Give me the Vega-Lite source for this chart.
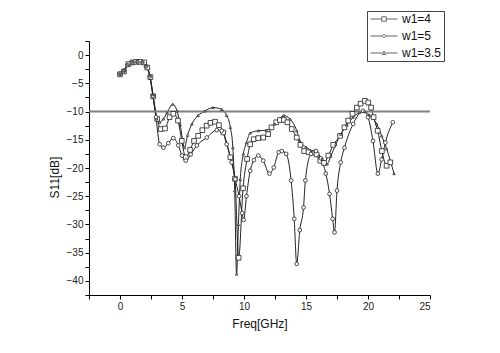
{
  "$schema": "https://vega.github.io/schema/vega-lite/v6.json",
  "width": 341,
  "height": 254,
  "autosize": "none",
  "padding": {"left": 89, "top": 41, "right": 70, "bottom": 58},
  "background": "white",
  "config": {
    "view": {"stroke": null},
    "axis": {
      "grid": false,
      "domainColor": "#000",
      "tickColor": "#000",
      "tickSize": 4,
      "labelColor": "#222",
      "labelFont": "Liberation Sans",
      "labelFontSize": 10,
      "titleFont": "Liberation Sans",
      "titleFontSize": 12,
      "titleFontWeight": "normal",
      "titleColor": "#111"
    }
  },
  "datasets": {
    "curves": [
      {"series": "w1=4", "f": 0.0, "db": -3.4},
      {"series": "w1=4", "f": 0.32, "db": -2.9},
      {"series": "w1=4", "f": 0.67, "db": -1.6},
      {"series": "w1=4", "f": 1.0, "db": -1.3},
      {"series": "w1=4", "f": 1.3, "db": -1.2},
      {"series": "w1=4", "f": 1.6, "db": -1.2},
      {"series": "w1=4", "f": 1.95, "db": -1.3},
      {"series": "w1=4", "f": 2.2, "db": -2.2},
      {"series": "w1=4", "f": 2.45, "db": -3.9},
      {"series": "w1=4", "f": 2.68, "db": -7.3},
      {"series": "w1=4", "f": 3.0, "db": -11.3},
      {"series": "w1=4", "f": 3.3, "db": -13.1},
      {"series": "w1=4", "f": 3.63, "db": -13.0},
      {"series": "w1=4", "f": 4.0, "db": -11.0},
      {"series": "w1=4", "f": 4.3, "db": -10.4},
      {"series": "w1=4", "f": 4.68, "db": -11.6},
      {"series": "w1=4", "f": 4.98, "db": -15.2},
      {"series": "w1=4", "f": 5.3, "db": -18.1},
      {"series": "w1=4", "f": 5.65, "db": -16.8},
      {"series": "w1=4", "f": 5.97, "db": -15.2},
      {"series": "w1=4", "f": 6.3, "db": -14.3},
      {"series": "w1=4", "f": 6.64, "db": -13.3},
      {"series": "w1=4", "f": 6.99, "db": -12.5},
      {"series": "w1=4", "f": 7.3, "db": -12.0},
      {"series": "w1=4", "f": 7.66, "db": -11.8},
      {"series": "w1=4", "f": 7.98, "db": -12.4},
      {"series": "w1=4", "f": 8.33, "db": -13.7},
      {"series": "w1=4", "f": 8.9, "db": -18.1},
      {"series": "w1=4", "f": 9.27, "db": -21.9},
      {"series": "w1=4", "f": 9.57, "db": -35.9},
      {"series": "w1=4", "f": 9.92, "db": -23.6},
      {"series": "w1=4", "f": 10.25, "db": -18.4},
      {"series": "w1=4", "f": 10.5, "db": -15.8},
      {"series": "w1=4", "f": 10.78, "db": -14.9},
      {"series": "w1=4", "f": 11.15, "db": -14.7},
      {"series": "w1=4", "f": 11.55, "db": -14.6},
      {"series": "w1=4", "f": 11.95, "db": -14.0},
      {"series": "w1=4", "f": 12.22, "db": -12.8},
      {"series": "w1=4", "f": 12.6, "db": -11.9},
      {"series": "w1=4", "f": 12.9, "db": -11.5},
      {"series": "w1=4", "f": 13.22, "db": -11.5},
      {"series": "w1=4", "f": 13.5, "db": -11.9},
      {"series": "w1=4", "f": 13.85, "db": -13.1},
      {"series": "w1=4", "f": 14.25, "db": -14.6},
      {"series": "w1=4", "f": 14.55, "db": -15.9},
      {"series": "w1=4", "f": 14.85, "db": -17.0},
      {"series": "w1=4", "f": 15.2, "db": -17.2},
      {"series": "w1=4", "f": 15.55, "db": -17.3},
      {"series": "w1=4", "f": 15.85, "db": -17.6},
      {"series": "w1=4", "f": 16.15, "db": -18.7},
      {"series": "w1=4", "f": 16.45, "db": -19.1},
      {"series": "w1=4", "f": 16.8, "db": -17.8},
      {"series": "w1=4", "f": 17.2, "db": -15.9},
      {"series": "w1=4", "f": 17.75, "db": -14.3},
      {"series": "w1=4", "f": 18.1, "db": -12.8},
      {"series": "w1=4", "f": 18.4, "db": -11.6},
      {"series": "w1=4", "f": 18.75, "db": -10.4},
      {"series": "w1=4", "f": 19.1, "db": -9.3},
      {"series": "w1=4", "f": 19.4, "db": -8.6},
      {"series": "w1=4", "f": 19.75, "db": -8.1},
      {"series": "w1=4", "f": 20.02, "db": -8.4},
      {"series": "w1=4", "f": 20.25, "db": -9.3},
      {"series": "w1=4", "f": 20.45, "db": -11.0},
      {"series": "w1=4", "f": 20.78, "db": -13.4},
      {"series": "w1=4", "f": 21.12, "db": -17.0},
      {"series": "w1=4", "f": 21.5, "db": -19.6},
      {"series": "w1=4", "f": 21.8, "db": -19.0},

      {"series": "w1=5", "f": 0.0, "db": -3.3},
      {"series": "w1=5", "f": 0.3, "db": -2.8},
      {"series": "w1=5", "f": 0.6, "db": -1.8},
      {"series": "w1=5", "f": 1.0, "db": -1.3},
      {"series": "w1=5", "f": 1.4, "db": -1.2},
      {"series": "w1=5", "f": 1.8, "db": -1.3},
      {"series": "w1=5", "f": 2.1, "db": -2.0},
      {"series": "w1=5", "f": 2.4, "db": -3.8},
      {"series": "w1=5", "f": 2.65, "db": -7.2},
      {"series": "w1=5", "f": 2.9, "db": -11.0},
      {"series": "w1=5", "f": 3.2, "db": -15.8},
      {"series": "w1=5", "f": 3.5, "db": -16.4},
      {"series": "w1=5", "f": 3.9, "db": -15.6},
      {"series": "w1=5", "f": 4.3, "db": -14.7},
      {"series": "w1=5", "f": 4.7, "db": -16.0},
      {"series": "w1=5", "f": 5.0, "db": -17.8},
      {"series": "w1=5", "f": 5.3, "db": -18.7},
      {"series": "w1=5", "f": 5.7, "db": -17.6},
      {"series": "w1=5", "f": 6.2, "db": -16.0},
      {"series": "w1=5", "f": 7.0, "db": -14.6},
      {"series": "w1=5", "f": 7.8, "db": -13.3},
      {"series": "w1=5", "f": 8.2, "db": -13.4},
      {"series": "w1=5", "f": 8.6, "db": -15.8},
      {"series": "w1=5", "f": 9.0, "db": -19.0},
      {"series": "w1=5", "f": 9.3, "db": -22.0},
      {"series": "w1=5", "f": 9.6, "db": -25.0},
      {"series": "w1=5", "f": 9.85, "db": -28.0},
      {"series": "w1=5", "f": 9.97, "db": -29.2},
      {"series": "w1=5", "f": 10.2, "db": -25.0},
      {"series": "w1=5", "f": 10.5, "db": -20.5},
      {"series": "w1=5", "f": 10.8, "db": -18.6},
      {"series": "w1=5", "f": 11.15, "db": -17.8},
      {"series": "w1=5", "f": 11.55, "db": -18.7},
      {"series": "w1=5", "f": 12.05, "db": -21.0},
      {"series": "w1=5", "f": 12.4, "db": -19.9},
      {"series": "w1=5", "f": 12.8, "db": -17.2},
      {"series": "w1=5", "f": 13.05, "db": -17.0},
      {"series": "w1=5", "f": 13.4, "db": -17.5},
      {"series": "w1=5", "f": 13.8, "db": -22.2},
      {"series": "w1=5", "f": 14.05, "db": -29.0},
      {"series": "w1=5", "f": 14.25, "db": -37.0},
      {"series": "w1=5", "f": 14.5, "db": -31.0},
      {"series": "w1=5", "f": 14.8, "db": -27.0},
      {"series": "w1=5", "f": 14.95, "db": -22.2},
      {"series": "w1=5", "f": 15.4, "db": -17.5},
      {"series": "w1=5", "f": 15.8, "db": -17.0},
      {"series": "w1=5", "f": 16.2, "db": -18.3},
      {"series": "w1=5", "f": 16.6, "db": -21.0},
      {"series": "w1=5", "f": 16.9, "db": -24.6},
      {"series": "w1=5", "f": 17.15, "db": -29.0},
      {"series": "w1=5", "f": 17.3, "db": -31.4},
      {"series": "w1=5", "f": 17.5, "db": -24.0},
      {"series": "w1=5", "f": 17.8, "db": -19.0},
      {"series": "w1=5", "f": 18.1, "db": -16.4},
      {"series": "w1=5", "f": 18.8, "db": -12.2},
      {"series": "w1=5", "f": 19.6, "db": -9.9},
      {"series": "w1=5", "f": 20.0, "db": -11.0},
      {"series": "w1=5", "f": 20.4, "db": -15.2},
      {"series": "w1=5", "f": 20.8, "db": -21.0},
      {"series": "w1=5", "f": 21.1, "db": -18.5},
      {"series": "w1=5", "f": 21.4, "db": -15.5},
      {"series": "w1=5", "f": 22.0, "db": -11.9},

      {"series": "w1=3.5", "f": 0.0, "db": -3.3},
      {"series": "w1=3.5", "f": 0.3, "db": -2.7},
      {"series": "w1=3.5", "f": 0.6, "db": -1.7},
      {"series": "w1=3.5", "f": 1.0, "db": -1.2},
      {"series": "w1=3.5", "f": 1.4, "db": -1.1},
      {"series": "w1=3.5", "f": 1.8, "db": -1.2},
      {"series": "w1=3.5", "f": 2.1, "db": -1.9},
      {"series": "w1=3.5", "f": 2.4, "db": -3.6},
      {"series": "w1=3.5", "f": 2.65, "db": -7.0},
      {"series": "w1=3.5", "f": 2.95, "db": -11.3},
      {"series": "w1=3.5", "f": 3.2, "db": -11.9},
      {"series": "w1=3.5", "f": 3.5, "db": -11.3},
      {"series": "w1=3.5", "f": 3.8, "db": -10.2},
      {"series": "w1=3.5", "f": 4.25, "db": -8.7},
      {"series": "w1=3.5", "f": 4.6, "db": -9.9},
      {"series": "w1=3.5", "f": 4.85, "db": -12.3},
      {"series": "w1=3.5", "f": 5.2, "db": -16.4},
      {"series": "w1=3.5", "f": 5.45, "db": -14.2},
      {"series": "w1=3.5", "f": 5.8, "db": -12.2},
      {"series": "w1=3.5", "f": 6.3, "db": -10.7},
      {"series": "w1=3.5", "f": 6.85, "db": -9.9},
      {"series": "w1=3.5", "f": 7.5, "db": -9.3},
      {"series": "w1=3.5", "f": 8.2, "db": -9.6},
      {"series": "w1=3.5", "f": 8.6, "db": -10.7},
      {"series": "w1=3.5", "f": 8.9, "db": -12.8},
      {"series": "w1=3.5", "f": 9.1, "db": -16.4},
      {"series": "w1=3.5", "f": 9.25, "db": -24.0},
      {"series": "w1=3.5", "f": 9.4, "db": -38.8},
      {"series": "w1=3.5", "f": 9.55, "db": -30.0},
      {"series": "w1=3.5", "f": 9.7, "db": -22.0},
      {"series": "w1=3.5", "f": 9.95, "db": -17.5},
      {"series": "w1=3.5", "f": 10.2, "db": -15.5},
      {"series": "w1=3.5", "f": 10.5, "db": -13.8},
      {"series": "w1=3.5", "f": 11.15, "db": -13.4},
      {"series": "w1=3.5", "f": 11.8, "db": -13.3},
      {"series": "w1=3.5", "f": 12.5, "db": -12.2},
      {"series": "w1=3.5", "f": 13.2, "db": -10.7},
      {"series": "w1=3.5", "f": 13.7, "db": -11.3},
      {"series": "w1=3.5", "f": 14.25, "db": -13.4},
      {"series": "w1=3.5", "f": 14.5, "db": -15.2},
      {"series": "w1=3.5", "f": 15.0, "db": -16.3},
      {"series": "w1=3.5", "f": 15.5, "db": -17.0},
      {"series": "w1=3.5", "f": 16.0, "db": -17.9},
      {"series": "w1=3.5", "f": 16.3, "db": -18.4},
      {"series": "w1=3.5", "f": 16.7, "db": -19.3},
      {"series": "w1=3.5", "f": 17.0, "db": -17.9},
      {"series": "w1=3.5", "f": 17.4, "db": -15.8},
      {"series": "w1=3.5", "f": 17.8, "db": -14.0},
      {"series": "w1=3.5", "f": 18.3, "db": -12.4},
      {"series": "w1=3.5", "f": 18.8, "db": -11.0},
      {"series": "w1=3.5", "f": 19.3, "db": -10.2},
      {"series": "w1=3.5", "f": 19.7, "db": -10.0},
      {"series": "w1=3.5", "f": 20.1, "db": -10.6},
      {"series": "w1=3.5", "f": 20.7, "db": -12.2},
      {"series": "w1=3.5", "f": 21.1, "db": -14.3},
      {"series": "w1=3.5", "f": 21.5, "db": -16.6},
      {"series": "w1=3.5", "f": 22.1, "db": -21.0}
    ],
    "threshold": [{"level": -10}]
  },
  "data": {"name": "curves"},
  "resolve": {"scale": {"shape": "independent"}, "legend": {"shape": "independent"}},
  "layer": [
    {
      "mark": {"type": "line", "interpolate": "monotone", "color": "#222", "strokeWidth": 1},
      "encoding": {
        "x": {
          "field": "f", "type": "quantitative",
          "scale": {"domain": [-2.5, 25], "nice": false, "zero": false},
          "axis": {
            "title": "Freq[GHz]",
            "values": [-2.5, 0, 2.5, 5, 7.5, 10, 12.5, 15, 17.5, 20, 22.5, 25],
            "tickCount": 30,
            "labelExpr": "datum.value % 5 === 0 ? datum.label : ''",
            "labelOverlap": false,
            "titlePadding": 7
          }
        },
        "y": {
          "field": "db", "type": "quantitative",
          "scale": {"domain": [-42.5, 2.5], "nice": false, "zero": false},
          "axis": {
            "title": "S11[dB]",
            "values": [-42.5, -40, -37.5, -35, -32.5, -30, -27.5, -25, -22.5, -20, -17.5, -15, -12.5, -10, -7.5, -5, -2.5, 0, 2.5],
            "tickCount": 30,
            "labelExpr": "datum.value % 5 === 0 ? datum.label : ''",
            "labelOverlap": false,
            "titlePadding": 5,
            "titleY": 136
          }
        },
        "detail": {"field": "series", "type": "nominal"}
      }
    },
    {
      "data": {"name": "threshold"},
      "mark": {"type": "rule", "color": "#808080", "strokeWidth": 2},
      "encoding": {
        "y": {"field": "level", "type": "quantitative"}
      }
    },
    {
      "mark": {"type": "point", "filled": false, "fill": "white", "stroke": "#222", "strokeWidth": 0.8, "opacity": 1},
      "encoding": {
        "x": {"field": "f", "type": "quantitative"},
        "y": {"field": "db", "type": "quantitative"},
        "shape": {
          "field": "series", "type": "nominal",
          "scale": {"domain": ["w1=4", "w1=5", "w1=3.5"], "range": ["square", "circle", "triangle-up"]},
          "legend": null
        },
        "size": {
          "field": "series", "type": "nominal",
          "scale": {"domain": ["w1=4", "w1=5", "w1=3.5"], "range": [22, 6, 8]},
          "legend": null
        }
      }
    },
    {
      "transform": [{"filter": "datum.f > 1000"}],
      "mark": {"type": "point", "filled": false, "stroke": "#222", "strokeWidth": 1},
      "encoding": {
        "x": {"field": "f", "type": "quantitative"},
        "y": {"field": "db", "type": "quantitative"},
        "shape": {
          "field": "series", "type": "nominal",
          "scale": {
            "domain": ["w1=4", "w1=5", "w1=3.5"],
            "range": [
              "M-2.7,0H-0.45M0.45,0H2.7M-0.45,-0.45H0.45V0.45H-0.45Z",
              "M-2.7,0H-0.3M0.3,0H2.7M-0.3,0A0.3,0.3 0 1,0 0.3,0A0.3,0.3 0 1,0 -0.3,0Z",
              "M-2.7,0H-0.35M0.35,0H2.7M0,-0.4L0.35,0.3H-0.35Z"
            ]
          },
          "legend": {
            "title": null,
            "orient": "none",
            "legendX": 278,
            "legendY": -30,
            "symbolSize": 100,
            "symbolOffset": 9,
            "labelOffset": 12,
            "labelFont": "Liberation Sans",
            "labelFontSize": 12,
            "labelColor": "#111",
            "strokeColor": "#444",
            "padding": 2,
            "rowPadding": 5,
            "symbolStrokeColor": "#222",
            "symbolStrokeWidth": 1
          }
        }
      }
    }
  ]
}
